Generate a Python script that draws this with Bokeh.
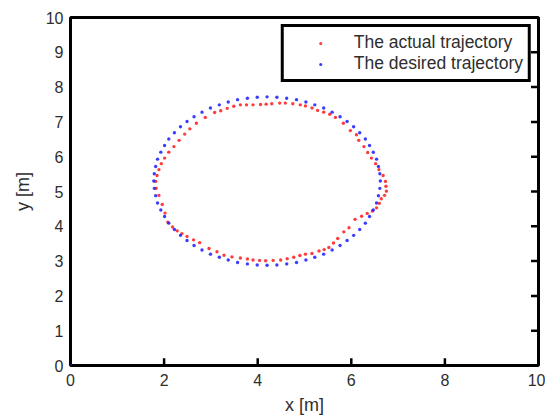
from bokeh.plotting import figure
from bokeh.models import FixedTicker, Range1d, Legend, LegendItem
from bokeh.embed import file_html
from bokeh.resources import INLINE

# Actual trajectory (red)
actual_x = [6.73, 6.68, 6.59, 6.52, 6.43, 6.35, 6.27, 6.16, 6.11, 5.98, 5.83, 5.66, 5.54, 5.41,
            5.28, 5.16, 5.02, 4.91, 4.75, 4.59, 4.47, 4.30, 4.18, 4.06, 3.90, 3.76, 3.63, 3.49,
            3.35, 3.21, 3.08, 2.88, 2.69, 2.55, 2.44, 2.32, 2.21, 2.10, 2.01, 1.94, 1.89, 1.85,
            1.82, 1.83, 1.89, 1.96, 2.02, 2.08, 2.18, 2.28, 2.38, 2.49, 2.63, 2.76, 2.96, 3.13,
            3.28, 3.45, 3.63, 3.78, 3.90, 4.04, 4.17, 4.33, 4.49, 4.63, 4.77, 4.90, 5.02, 5.16,
            5.31, 5.42, 5.52, 5.62, 5.71, 5.84, 5.95, 6.08, 6.22, 6.34, 6.45, 6.54, 6.60, 6.64,
            6.71, 6.75, 6.74]
actual_y = [5.29, 5.46, 5.63, 5.80, 5.96, 6.12, 6.29, 6.47, 6.63, 6.75, 6.96, 7.13, 7.22, 7.28,
            7.33, 7.40, 7.46, 7.49, 7.52, 7.54, 7.54, 7.52, 7.51, 7.50, 7.49, 7.49, 7.49, 7.45,
            7.39, 7.32, 7.27, 7.13, 6.96, 6.80, 6.65, 6.47, 6.29, 6.13, 5.96, 5.80, 5.63, 5.46,
            5.29, 5.09, 4.89, 4.63, 4.38, 4.12, 3.98, 3.87, 3.79, 3.71, 3.61, 3.53, 3.36, 3.27,
            3.17, 3.12, 3.09, 3.06, 3.03, 3.02, 3.01, 3.02, 3.03, 3.07, 3.11, 3.16, 3.20, 3.22,
            3.29, 3.33, 3.39, 3.52, 3.65, 3.84, 3.96, 4.20, 4.29, 4.37, 4.44, 4.53, 4.66, 4.79,
            4.89, 5.01, 5.15]

# Desired trajectory (blue)
desired_x = [0.00,
             6.62, 6.61, 6.58, 6.54, 6.47, 6.39, 6.30, 6.18, 6.05, 5.91, 5.76, 5.59, 5.41, 5.22,
             5.03, 4.83, 4.62, 4.41, 4.20, 3.99, 3.78, 3.57, 3.37, 3.18, 2.99, 2.81, 2.64, 2.49,
             2.35, 2.22, 2.10, 2.01, 1.93, 1.86, 1.82, 1.79, 1.78, 1.79, 1.82, 1.86, 1.93, 2.01,
             2.10, 2.22, 2.35, 2.49, 2.64, 2.81, 2.99, 3.18, 3.37, 3.57, 3.78, 3.99, 4.20, 4.41,
             4.62, 4.83, 5.03, 5.22, 5.41, 5.59, 5.76, 5.91, 6.05, 6.18, 6.30, 6.39, 6.47, 6.54,
             6.58, 6.61]
desired_y = [0.00,
             5.30, 5.51, 5.72, 5.93, 6.13, 6.32, 6.51, 6.69, 6.86, 7.01, 7.15, 7.28, 7.40, 7.49,
             7.57, 7.64, 7.68, 7.71, 7.72, 7.71, 7.68, 7.64, 7.57, 7.49, 7.40, 7.28, 7.15, 7.01,
             6.86, 6.69, 6.51, 6.32, 6.13, 5.93, 5.72, 5.51, 5.30, 5.09, 4.88, 4.67, 4.47, 4.28,
             4.09, 3.91, 3.74, 3.59, 3.45, 3.32, 3.20, 3.11, 3.03, 2.96, 2.92, 2.89, 2.88, 2.89,
             2.92, 2.96, 3.03, 3.11, 3.20, 3.32, 3.45, 3.59, 3.74, 3.91, 4.09, 4.28, 4.47, 4.67,
             4.88, 5.09]

x_ticks = [0, 2, 4, 6, 8, 10]
y_ticks = [0, 1, 2, 3, 4, 5, 6, 7, 8, 9, 10]
labels = ["The actual trajectory", "The desired trajectory"]

FONT = "Liberation Sans"
TXT = "#2e2e2e"
X0, X1, Y0, Y1 = 0, 10, 0, 10
TICK_X = 0.16   # tick length in x units (~7 px, the outline hides ~1.5 px)
TICK_Y = 0.21   # tick length in y units (~7 px)

p = figure(width=545, height=417, output_backend="svg", toolbar_location=None,
           x_range=Range1d(X0, X1), y_range=Range1d(Y0, Y1),
           min_border_left=70, min_border_right=7, min_border_top=17, min_border_bottom=50)
p.xgrid.visible = False
p.ygrid.visible = False
p.outline_line_color = "black"
p.outline_line_alpha = 1.0
p.outline_line_width = 3
p.background_fill_color = "white"
p.border_fill_color = "white"

# inward tick marks on the bottom and right edges
p.segment(x0=x_ticks, y0=[Y0] * len(x_ticks), x1=x_ticks, y1=[Y0 + TICK_Y] * len(x_ticks),
          line_color="#000000", line_width=2.5, line_alpha=1.0)
p.segment(x0=[X1] * len(y_ticks), y0=y_ticks, x1=[X1 - TICK_X] * len(y_ticks), y1=y_ticks,
          line_color="#000000", line_width=2.5, line_alpha=1.0)

r_act = p.scatter(actual_x, actual_y, size=3.4, marker="circle", fill_color="#ff1a1a",
                  line_color=None, fill_alpha=0.85)
r_des = p.scatter(desired_x, desired_y, size=3.4, marker="circle", fill_color="#1a1aff",
                  line_color=None, fill_alpha=0.85)

p.xaxis.ticker = FixedTicker(ticks=x_ticks)
p.yaxis.ticker = FixedTicker(ticks=y_ticks)
for ax in (p.xaxis[0], p.yaxis[0]):
    ax.axis_line_color = None
    ax.major_tick_in = 0
    ax.major_tick_out = 0
    ax.major_tick_line_color = None
    ax.minor_tick_line_color = None
    ax.major_label_text_font = FONT
    ax.major_label_text_font_size = "16px"
    ax.major_label_text_color = TXT
    ax.axis_label_text_font = FONT
    ax.axis_label_text_font_size = "18px"
    ax.axis_label_text_font_style = "normal"
    ax.axis_label_text_color = TXT
p.xaxis.axis_label = "x [m]"
p.yaxis.axis_label = "y [m]"
p.xaxis.major_label_standoff = 8
p.xaxis.axis_label_standoff = 6
p.yaxis.major_label_standoff = 7
p.yaxis.axis_label_standoff = 10

legend = Legend(items=[LegendItem(label=labels[0], renderers=[r_act]),
                       LegendItem(label=labels[1], renderers=[r_des])],
                location="top_right", margin=7, padding=5, spacing=0,
                glyph_width=63, glyph_height=8, label_height=19, label_standoff=2,
                label_text_font=FONT, label_text_font_size="17.5px", label_text_color=TXT,
                border_line_color="black", border_line_alpha=1.0, border_line_width=3,
                background_fill_color="white", background_fill_alpha=1.0)
p.add_layout(legend)

open("out.html", "w").write(file_html(p, INLINE))
